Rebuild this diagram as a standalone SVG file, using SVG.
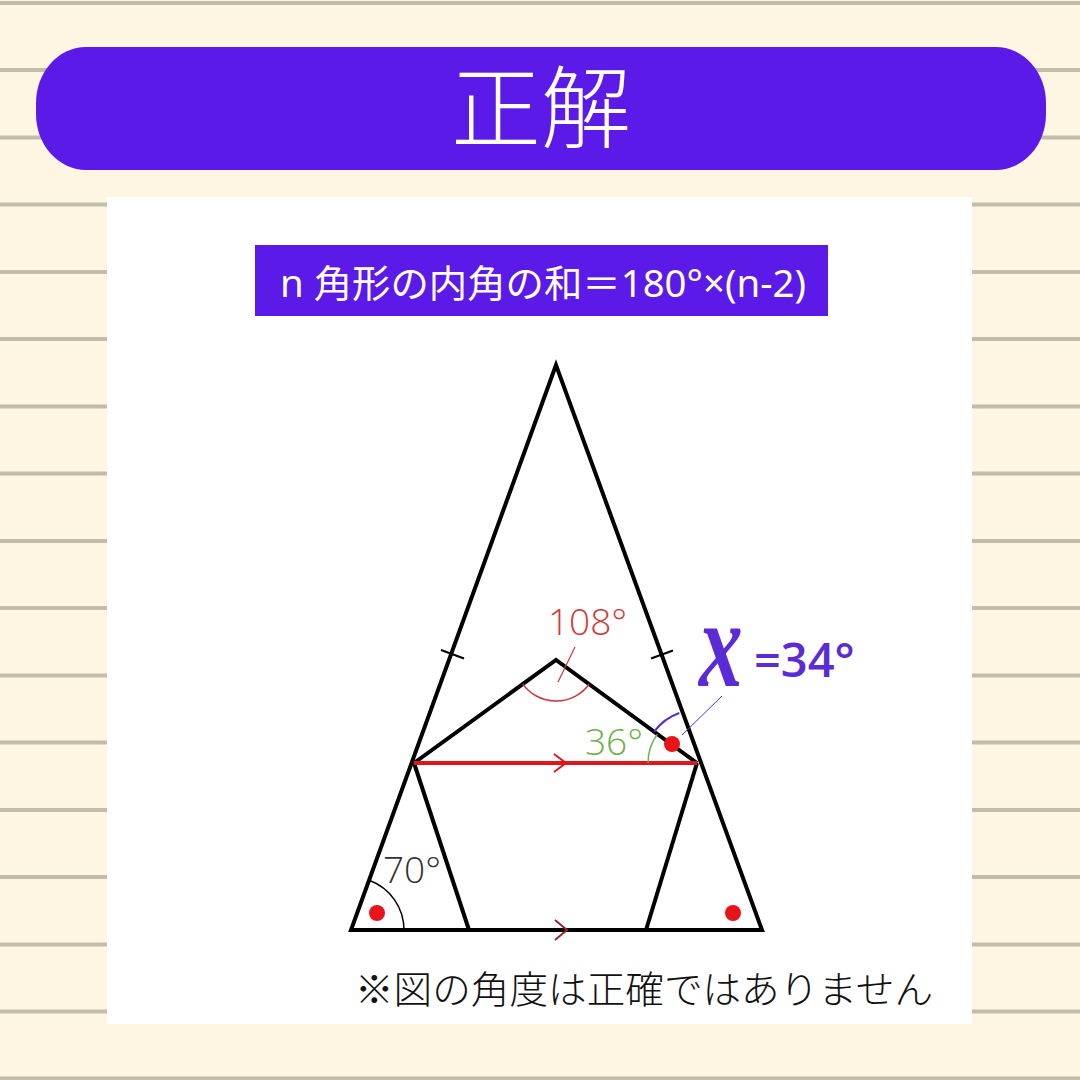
<svg xmlns="http://www.w3.org/2000/svg" width="1080" height="1080" viewBox="0 0 1080 1080">
<style>
.rule{stroke:#C3BCA8;stroke-width:4}
.edge{stroke:#000;stroke-width:4;fill:none;stroke-linejoin:miter;stroke-linecap:butt}
.thin{stroke-width:1.5;fill:none}
.cjk{font-family:"Noto Sans CJK JP","Noto Sans",sans-serif}
.lbl{font-family:"Open Sans","Noto Sans",sans-serif;font-weight:300;font-size:37px}
</style>
<rect width="1080" height="1080" fill="#FEF6E2"/>
<g id="rules">
<line class="rule" x1="0" x2="1080" y1="3" y2="3"/>
<line class="rule" x1="0" x2="1080" y1="70" y2="70"/>
<line class="rule" x1="0" x2="1080" y1="137.5" y2="137.5"/>
<line class="rule" x1="0" x2="1080" y1="204.5" y2="204.5"/>
<line class="rule" x1="0" x2="1080" y1="272" y2="272"/>
<line class="rule" x1="0" x2="1080" y1="339" y2="339"/>
<line class="rule" x1="0" x2="1080" y1="406.5" y2="406.5"/>
<line class="rule" x1="0" x2="1080" y1="473.5" y2="473.5"/>
<line class="rule" x1="0" x2="1080" y1="541" y2="541"/>
<line class="rule" x1="0" x2="1080" y1="608" y2="608"/>
<line class="rule" x1="0" x2="1080" y1="675.5" y2="675.5"/>
<line class="rule" x1="0" x2="1080" y1="742.5" y2="742.5"/>
<line class="rule" x1="0" x2="1080" y1="810" y2="810"/>
<line class="rule" x1="0" x2="1080" y1="877" y2="877"/>
<line class="rule" x1="0" x2="1080" y1="944.5" y2="944.5"/>
<line class="rule" x1="0" x2="1080" y1="1011.5" y2="1011.5"/>
<line class="rule" x1="0" x2="1080" y1="1078.5" y2="1078.5"/>
</g>
<rect id="panel" x="107" y="197" width="865" height="827" fill="#FFFFFF"/>
<g id="header">
<rect x="36" y="47" width="1010" height="123" rx="50" ry="56" fill="#5B1AE8"/>
<text x="541" y="141" text-anchor="middle" class="cjk" font-size="90" font-weight="300" fill="#FFFFFF">正解</text>
</g>
<g id="formula">
<rect x="255" y="245" width="573" height="71" fill="#5B1AE8"/>
<text x="280" y="297" font-family="Noto Sans,Noto Sans CJK JP,sans-serif" font-size="38" fill="#FFFFFF" textLength="526" lengthAdjust="spacingAndGlyphs">n 角形の内角の和＝180°×(n-2)</text>
</g>
<g id="connectors">
<polygon id="triangle" class="edge" points="556,365 351,930 762,930"/>
<polyline id="pentagon-top" class="edge" points="414,763 556,660 697,763"/>
<line class="edge" x1="414" y1="763" x2="469" y2="930"/>
<line class="edge" x1="697" y1="763" x2="646" y2="930"/>
<line x1="414" y1="763" x2="697" y2="763" stroke="#E0161B" stroke-width="4"/>
<polyline points="554,754 566,763 554,772" fill="none" stroke="#E0161B" stroke-width="2"/>
<polyline points="555,920 567,930 555,940" fill="none" stroke="#8E2B2B" stroke-width="2"/>
<line x1="441" y1="650" x2="464" y2="658.5" stroke="#000" stroke-width="2"/>
<line x1="651" y1="658.5" x2="673" y2="650.5" stroke="#000" stroke-width="2"/>
</g>
<g id="angle-108">
<path d="M522.8,684.1 A41,41 0 0 0 589.1,684.2" stroke="#C8383C" class="thin"/>
<line x1="558" y1="682" x2="575" y2="647" stroke="#C8383C" stroke-width="1.2"/>
<text x="548" y="635" class="lbl" fill="#D23A3C">108°</text>
</g>
<g id="angle-36">
<path d="M648,763 A49,49 0 0 1 657.4,734.1" stroke="#6AB04C" class="thin"/>
<text x="585" y="755" class="lbl" fill="#6AB04C">36°</text>
</g>
<g id="angle-x">
<path d="M654.2,731.7 A53,53 0 0 1 679.3,713" stroke="#5B2BD5" stroke-width="2" fill="none"/>
<line x1="682" y1="735" x2="722" y2="696" stroke="#5B2BD5" stroke-width="1"/>
<circle cx="672" cy="744" r="8" fill="#E8141A"/>
<text x="699" y="686" font-family="Liberation Serif,serif" font-style="italic" font-weight="bold" font-size="92" fill="#5B2BD5" transform="translate(699 686) scale(0.95 1.35) translate(-699 -686)">x</text>
<text x="754" y="677" font-family="Open Sans,Noto Sans,sans-serif" font-weight="600" font-size="47" fill="#5B2BD5">=34°</text>
</g>
<g id="angle-70">
<path d="M404,930 A53,53 0 0 0 369.1,880.2" stroke="#000" class="thin" stroke-width="2"/>
<text x="383" y="883" class="lbl" fill="#333333">70°</text>
<circle cx="377" cy="913" r="8" fill="#E8141A"/>
</g>
<g id="angle-right">
<circle cx="733" cy="913" r="8" fill="#E8141A"/>
</g>
<text id="note" x="355" y="1003" class="cjk" font-weight="300" font-size="38" fill="#111" textLength="578" lengthAdjust="spacingAndGlyphs">※図の角度は正確ではありません</text>
</svg>
